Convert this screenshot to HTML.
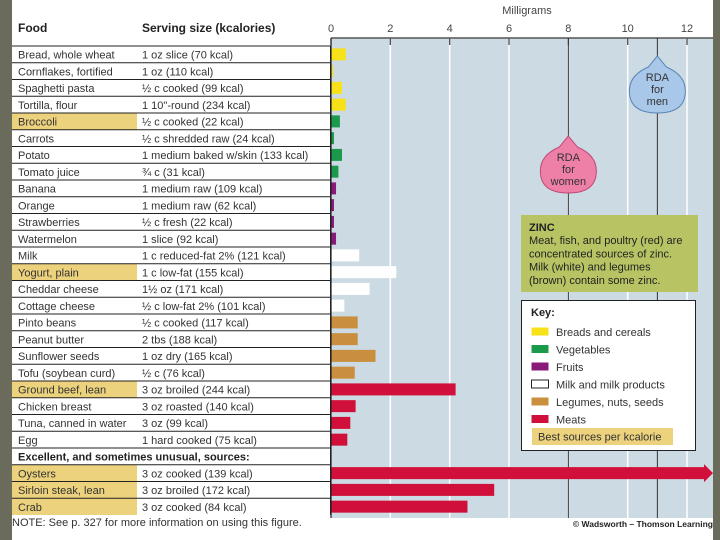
<!DOCTYPE html>
<html><head><meta charset="utf-8"><style>
body{margin:0;background:#fff}
svg{display:block;font-family:"Liberation Sans",sans-serif}
</style></head><body>
<svg id="c" width="720" height="540" viewBox="0 0 720 540" xmlns="http://www.w3.org/2000/svg">
<rect x="0" y="0" width="720" height="540" fill="#fff"/>
<rect x="0" y="0" width="12" height="540" fill="#6b6b5c"/>
<rect x="713" y="0" width="7" height="540" fill="#6b6b5c"/>
<g id="tbl"></g>
<g id="plot"></g>
</svg>
<script>
const foods=["Bread, whole wheat","Cornflakes, fortified","Spaghetti pasta","Tortilla, flour","Broccoli","Carrots","Potato","Tomato juice","Banana","Orange","Strawberries","Watermelon","Milk","Yogurt, plain","Cheddar cheese","Cottage cheese","Pinto beans","Peanut butter","Sunflower seeds","Tofu (soybean curd)","Ground beef, lean","Chicken breast","Tuna, canned in water","Egg","Oysters","Sirloin steak, lean","Crab"];
const servings=["1 oz slice (70 kcal)","1 oz (110 kcal)","½ c cooked (99 kcal)","1 10\"-round (234 kcal)","½ c cooked (22 kcal)","½ c shredded raw (24 kcal)","1 medium baked w/skin (133 kcal)","¾ c (31 kcal)","1 medium raw (109 kcal)","1 medium raw (62 kcal)","½ c fresh (22 kcal)","1 slice (92 kcal)","1 c reduced-fat 2% (121 kcal)","1 c low-fat (155 kcal)","1½ oz (171 kcal)","½ c low-fat 2% (101 kcal)","½ c cooked (117 kcal)","2 tbs (188 kcal)","1 oz dry (165 kcal)","½ c (76 kcal)","3 oz broiled (244 kcal)","3 oz roasted (140 kcal)","3 oz (99 kcal)","1 hard cooked (75 kcal)","3 oz cooked (139 kcal)","3 oz broiled (172 kcal)","3 oz cooked (84 kcal)"];
const zincMg=[0.5,0.07,0.37,0.5,0.3,0.1,0.37,0.25,0.17,0.1,0.1,0.17,0.95,2.2,1.3,0.45,0.9,0.9,1.5,0.8,4.2,0.83,0.65,0.55,76,5.5,4.6];
const groups=["bread","bread","bread","bread","veg","veg","veg","veg","fruit","fruit","fruit","fruit","milk","milk","milk","milk","leg","leg","leg","leg","meat","meat","meat","meat","meat","meat","meat"];
const best=[0,0,0,0,1,0,0,0,0,0,0,0,0,1,0,0,0,0,0,0,1,0,0,0,1,1,1];
const ticks=[0,2,4,6,8,10,12];
const rdaWomen=8, rdaMen=11;
const colors={bread:"#f7e21a",veg:"#1a9a4a",fruit:"#8a1a7a",milk:"#ffffff",leg:"#c98f3e",meat:"#d0103a"};
const keyLabels=["Breads and cereals","Vegetables","Fruits","Milk and milk products","Legumes, nuts, seeds","Meats"];
const keyGroups=["bread","veg","fruit","milk","leg","meat"];
const NS="http://www.w3.org/2000/svg";
const x0=331,pxPer=29.67,xMax=713;
const X=v=>x0+v*pxPer;
const rowTop=46,rowH=16.75;
function rowY(i){const r=i<24?i:i+1;return rowTop+r*rowH;}
function mk(tag,at,parent,txt){const e=document.createElementNS(NS,tag);for(const k in at)e.setAttribute(k,at[k]);if(txt!==undefined)e.textContent=txt;parent.appendChild(e);return e;}
const tbl=document.getElementById('tbl'),plot=document.getElementById('plot');
// header
let h=mk('text',{x:18,y:32,'font-size':12,'font-weight':'bold',fill:'#222'},tbl,'Food');

h=mk('text',{x:142,y:32,'font-size':12,'font-weight':'bold',fill:'#222'},tbl,'Serving size (kcalories)');

// plot bg
let bg=mk('rect',{x:x0,y:38,width:xMax-x0,height:480,fill:'#ccdae3'},plot);

ticks.forEach(t=>{
  const dark=(t===4||t===6);
  if(t>0){const l=mk('line',{x1:X(t),x2:X(t),y1:38,y2:518,stroke:dark?'#fff':'#fff','stroke-width':1.5},plot);
  }
  const tx=mk('text',{x:X(t),y:32,'font-size':11,fill:'#444','text-anchor':'middle'},plot,String(t));
  
  const tk=mk('line',{x1:X(t),x2:X(t),y1:38,y2:45,stroke:'#444','stroke-width':1.2},plot);
  
});
let at=mk('text',{x:527,y:14,'font-size':11,fill:'#444','text-anchor':'middle'},plot,'Milligrams');

let ax=mk('line',{x1:x0,x2:xMax,y1:38,y2:38,stroke:'#555','stroke-width':1.5},plot);

[rdaWomen,rdaMen].forEach((v,k)=>{const l=mk('line',{x1:X(v),x2:X(v),y1:38,y2:518,stroke:'#333','stroke-width':1},plot);
});
// rows
for(let i=0;i<foods.length;i++){
  const y=rowY(i);
  if(best[i]){const b=mk('rect',{x:12,y:y,width:125,height:rowH,fill:'#ecd27c'},tbl);
  }
  const l=mk('line',{x1:12,x2:331,y1:y,y2:y,stroke:'#222','stroke-width':1},tbl);
  
  const t1=mk('text',{x:18,y:y+12.5,'font-size':11,fill:'#333'},tbl,foods[i]);
  
  const t2=mk('text',{x:142,y:y+12.5,'font-size':11,fill:'#333'},tbl,servings[i]);
  
  const v=zincMg[i];const bh=12,by=y+2.4;
  if(X(v)>xMax-8){
    const p=mk('path',{d:`M${x0} ${by} H${xMax-9} V${by-3} L${xMax} ${by+bh/2} L${xMax-9} ${by+bh+3} V${by+bh} H${x0} Z`,fill:colors[groups[i]]},plot);
    
  } else {
    const r=mk('rect',{x:x0,y:by,width:X(v)-x0,height:bh,fill:colors[groups[i]]},plot);
    
  }
}
let ly=rowY(24)-rowH;
let el=mk('line',{x1:12,x2:331,y1:ly,y2:ly,stroke:'#222'},tbl);

el=mk('text',{x:18,y:ly+12.5,'font-size':11,'font-weight':'bold',fill:'#222'},tbl,'Excellent, and sometimes unusual, sources:');

el=mk('line',{x1:330.5,x2:330.5,y1:46,y2:515,stroke:'#222'},tbl);

el=mk('text',{x:12,y:526,'font-size':11,fill:'#333'},tbl,'NOTE: See p. 327 for more information on using this figure.');

el=mk('text',{x:713,y:527,'font-size':8.5,'font-weight':'bold',fill:'#222','text-anchor':'end'},plot,'© Wadsworth – Thomson Learning');

// RDA drops
function drop(cx,cy,fill,stroke,lines,name){
  const g=mk('g',{},plot);
  mk('path',{d:`M${cx} ${cy-31} L${cx-9} ${cy-20} Q${cx-28} ${cy-12} ${cx-28} ${cy+4} Q${cx-28} ${cy+26} ${cx} ${cy+26} Q${cx+28} ${cy+26} ${cx+28} ${cy+4} Q${cx+28} ${cy-12} ${cx+9} ${cy-20} Z`,fill:fill,stroke:stroke},g);
  lines.forEach((s,k)=>mk('text',{x:cx,y:cy-6+k*12,'font-size':11,fill:'#333','text-anchor':'middle'},g,s));
}
drop(X(rdaWomen),167,'#ee7fa6','#c04a78',['RDA','for','women'],'rda-women-marker');
drop(X(rdaMen),87,'#a9c7e8','#5a86b8',['RDA','for','men'],'rda-men-marker');
// zinc box
el=mk('rect',{x:521,y:215,width:177,height:77,fill:'#b8c463'},plot);

const zl=[['ZINC','bold'],['Meat, fish, and poultry (red) are','normal'],['concentrated sources of zinc.','normal'],['Milk (white) and legumes','normal'],['(brown) contain some zinc.','normal']];
zl.forEach((s,k)=>{const t=mk('text',{x:529,y:231+k*13.2,'font-size':11,'font-weight':s[1],fill:'#222'},plot,s[0]);
});
// key
el=mk('rect',{x:521.5,y:300.5,width:174,height:150,fill:'#fff',stroke:'#222'},plot);

el=mk('text',{x:531,y:316,'font-size':11,'font-weight':'bold',fill:'#222'},plot,'Key:');

keyLabels.forEach((s,k)=>{const y=327+k*17.5;
  const g=mk('g',{},plot);
  mk('rect',{x:531.5,y:y+0.5,width:17,height:8,fill:colors[keyGroups[k]],stroke:keyGroups[k]==='milk'?'#222':'none'},g);
  mk('text',{x:556,y:y+9,'font-size':11,fill:'#333'},g,s);});
el=mk('rect',{x:532,y:428,width:141,height:17,fill:'#ecd27c'},plot);

el=mk('text',{x:538,y:440.5,'font-size':11,fill:'#333'},plot,'Best sources per kcalorie');

el=mk('line',{x1:x0,x2:x0,y1:38,y2:518,stroke:'#222','stroke-width':1.2},plot);

</script>
</body></html>
